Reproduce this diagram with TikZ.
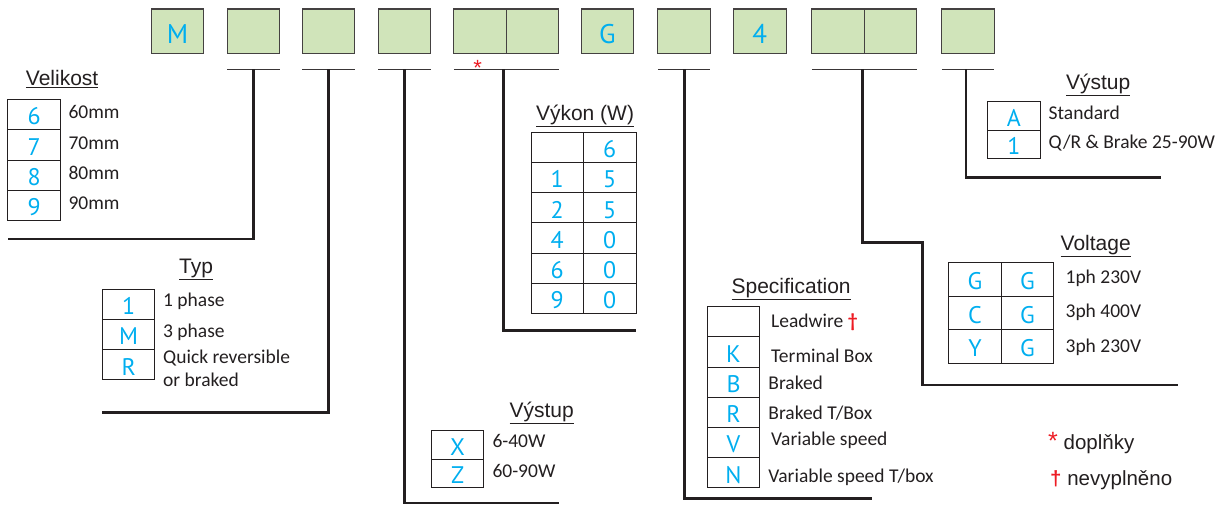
\documentclass[tikz,border=0pt]{standalone}
\usepackage{fontspec}
\setmainfont{Liberation Sans}
\newfontfamily\descfamily{Carlito}
\newfontfamily\codefamily{PT Sans}
\usetikzlibrary{positioning}

\definecolor{codegreen}{RGB}{208,228,186}
\definecolor{codeblue}{RGB}{0,174,239}
\definecolor{markred}{RGB}{237,28,36}
\definecolor{ink}{RGB}{35,31,32}

\tikzset{
  codebox/.style={draw=ink!85, line width=1.1pt, fill=codegreen, minimum width=52.5pt, minimum height=44.7pt,
    inner sep=0pt, outer sep=0pt, text=codeblue, text height=23.4pt, text depth=0pt, font=\codefamily\fontsize{27}{29}\selectfont},
  cell/.style={draw=ink, line width=0.9pt, minimum width=52.5pt, minimum height=30.2pt, inner sep=0pt, outer sep=0pt,
    text=codeblue, text height=20.5pt, text depth=0pt, font=\codefamily\fontsize{24}{26}\selectfont},
  cellshort/.style={cell, minimum height=28.3pt},
  celltall/.style={cell, minimum height=33.5pt},
  desc/.style={anchor=base west, inner sep=0pt, text=ink, font=\descfamily\fontsize{19.5}{23.4}\selectfont},
  head/.style={anchor=base west, inner sep=0pt, text=ink, font=\fontsize{21}{25}\selectfont},
  legend/.style={anchor=base west, inner sep=0pt, text=ink, font=\fontsize{20.5}{24}\selectfont},
  lead/.style={line width=2.8pt, ink},
  uline/.style={line width=1.3pt, ink!90},
}

\begin{document}
\begin{tikzpicture}[x=1pt,y=1pt]
  \useasboundingbox (0,0) rectangle (1228,-505);

  % code boxes
  \node[codebox] (kM) at (177.5,-31.35) {M};
  \node[codebox] (kSize) at (253.3,-31.35) {};
  \node[codebox] (kType) at (328.6,-31.35) {};
  \node[codebox] (kOutA) at (404.5,-31.35) {};
  \node[codebox] (kPowA) at (480,-31.35) {};
  \node[codebox, right=0pt of kPowA] (kPowB) {};
  \node[codebox] (kG) at (607.5,-31.35) {G};
  \node[codebox] (kSpec) at (684.1,-31.35) {};
  \node[codebox] (k4) at (759.8,-31.35) {4};
  \node[codebox] (kVoltA) at (838.1,-31.35) {};
  \node[codebox, right=0pt of kVoltA] (kVoltB) {};
  \node[codebox] (kOutB) at (968,-31.35) {};

  \draw[uline] ([yshift=-15.6pt]kSize.south west) -- ([yshift=-15.6pt]kSize.south east);
  \draw[uline] ([yshift=-15.6pt]kType.south west) -- ([yshift=-15.6pt]kType.south east);
  \draw[uline] ([yshift=-15.6pt]kOutA.south west) -- ([yshift=-15.6pt]kOutA.south east);
  \draw[uline] ([yshift=-15.6pt]kPowA.south west) -- ([yshift=-15.6pt]kPowB.south east);
  \draw[uline] ([yshift=-15.6pt]kSpec.south west) -- ([yshift=-15.6pt]kSpec.south east);
  \draw[uline] ([yshift=-15.6pt]kVoltA.south west) -- ([yshift=-15.6pt]kVoltB.south east);
  \draw[uline] ([yshift=-15.6pt]kOutB.south west) -- ([yshift=-15.6pt]kOutB.south east);
  \node[inner sep=0pt, text=markred, font=\fontsize{22}{22}\selectfont] (powstar) at (477.6,-67.5) {*};

  % leads
  \coordinate (sizeEnd) at (7.9,-239);
  \coordinate (typeEnd) at (102.4,-412.3);
  \coordinate (outEnd) at (559,-503);
  \coordinate (powEnd) at (636,-330.5);
  \coordinate (specEnd) at (872.3,-498.3);
  \coordinate (voltBend) at (922.4,-242.7);
  \coordinate (voltEnd) at (1177.9,-385);
  \coordinate (out2End) at (1160.7,-177.3);

  \draw[lead] ([yshift=-15.6pt]kSize.south) |- (sizeEnd);
  \draw[lead] ([yshift=-15.6pt]kType.south) |- (typeEnd);
  \draw[lead] ([yshift=-15.6pt]kOutA.south) |- (outEnd);
  \draw[lead] ([yshift=-15.6pt,xshift=-3pt]kPowA.south east) |- (powEnd);
  \draw[lead] ([yshift=-15.6pt]kSpec.south) |- (specEnd);
  \draw[lead] ([yshift=-15.6pt,xshift=-2pt]kVoltA.south east) |- (voltBend) |- (voltEnd);
  \draw[lead] ([yshift=-15.6pt,xshift=-2pt]kOutB.south) |- (out2End);

  % Velikost
  \node[head] (sizeHead) at (25.7,-86) {\underline{Velikost}};
  \node[cell, minimum height=30.35pt] (s6) at (34.15,-114.5) {6};
  \node[cell, minimum height=30.35pt, below=0pt of s6] (s7) {7};
  \node[cell, minimum height=30.35pt, below=0pt of s7] (s8) {8};
  \node[cell, minimum height=30.35pt, below=0pt of s8] (s9) {9};
  \node[desc] (s6d) at (68.4,-119) {60mm};
  \node[desc] (s7d) at (68.4,-149.4) {70mm};
  \node[desc] (s8d) at (68.4,-179.7) {80mm};
  \node[desc] (s9d) at (68.4,-210) {90mm};

  % Typ
  \node[head] (typeHead) at (179,-273) {\underline{Typ}};
  \node[cell] (t1) at (128.65,-304.4) {1};
  \node[cell, below=0pt of t1] (tM) {M};
  \node[cell, below=0pt of tM] (tR) {R};
  \node[desc] (t1d) at (163,-306.7) {1 phase};
  \node[desc] (tMd) at (163,-337.7) {3 phase};
  \node[desc] (tRd) at (163,-363.3) {Quick reversible};
  \node[desc] (tRe) at (163,-386.7) {or braked};

  % Vystup (left)
  \node[head] (outHead) at (509.3,-417.7) {\underline{Výstup}};
  \node[cellshort] (oX) at (457.65,-444.85) {X};
  \node[cellshort, below=0pt of oX] (oZ) {Z};
  \node[desc] (oXd) at (492.3,-447.3) {6-40W};
  \node[desc] (oZd) at (492.3,-477.3) {60-90W};

  % Vykon
  \node[head] (powHead) at (535.8,-120.7) {\underline{Výkon (W)}};
  \node[cell] (w1a) at (557.25,-147.4) {};
  \node[cell, right=0pt of w1a] (w1b) {6};
  \node[cell, below=0pt of w1a] (w2a) {1};
  \node[cell, right=0pt of w2a] (w2b) {5};
  \node[cell, below=0pt of w2a] (w3a) {2};
  \node[cell, right=0pt of w3a] (w3b) {5};
  \node[cell, below=0pt of w3a] (w4a) {4};
  \node[cell, right=0pt of w4a] (w4b) {0};
  \node[cell, below=0pt of w4a] (w5a) {6};
  \node[cell, right=0pt of w5a] (w5b) {0};
  \node[cell, below=0pt of w5a] (w6a) {9};
  \node[cell, right=0pt of w6a] (w6b) {0};

  % Specification
  \node[head] (specHead) at (731.4,-293.3) {\underline{Specification}};
  \node[cell] (pL) at (733.55,-321.75) {};
  \node[cell, below=0pt of pL] (pK) {K};
  \node[cell, below=0pt of pK] (pB) {B};
  \node[cell, below=0pt of pB] (pR) {R};
  \node[cell, below=0pt of pR] (pV) {V};
  \node[cell, below=0pt of pV] (pN) {N};
  \node[desc] (pLd) at (771,-327.3) {Leadwire {\bfseries\color{markred}†}};
  \node[desc] (pKd) at (771,-362.7) {Terminal Box};
  \node[desc] (pBd) at (768.2,-389) {Braked};
  \node[desc] (pRd) at (768.2,-419) {Braked T/Box};
  \node[desc] (pVd) at (771,-445.7) {Variable speed};
  \node[desc] (pNd) at (768.2,-482.7) {Variable speed T/box};

  % Voltage
  \node[head] (voltHead) at (1060.5,-250) {\underline{Voltage}};
  \node[celltall] (v1a) at (974.95,-279.45) {G};
  \node[celltall, right=0pt of v1a] (v1b) {G};
  \node[celltall, below=0pt of v1a] (v2a) {C};
  \node[celltall, right=0pt of v2a] (v2b) {G};
  \node[celltall, below=0pt of v2a] (v3a) {Y};
  \node[celltall, right=0pt of v3a] (v3b) {G};
  \node[desc] (v1d) at (1065.4,-283.3) {1ph 230V};
  \node[desc] (v2d) at (1065.4,-317.7) {3ph 400V};
  \node[desc] (v3d) at (1065.4,-352.7) {3ph 230V};

  % Vystup (right)
  \node[head] (out2Head) at (1065.8,-89.3) {\underline{Výstup}};
  \node[cellshort] (qA) at (1013.95,-115.85) {A};
  \node[cellshort, below=0pt of qA] (q1) {1};
  \node[desc] (qAd) at (1048.5,-120) {Standard};
  \node[desc] (q1d) at (1048.5,-148.3) {Q/R \& Brake 25-90W};

  % legend
  \node[legend] (legStar) at (1048,-449.3) {{\color{markred}\fontsize{25}{25}\selectfont*} doplňky};
  \node[legend] (legDagger) at (1050,-485) {{\color{markred}\bfseries†} nevyplněno};
\end{tikzpicture}
\end{document}
